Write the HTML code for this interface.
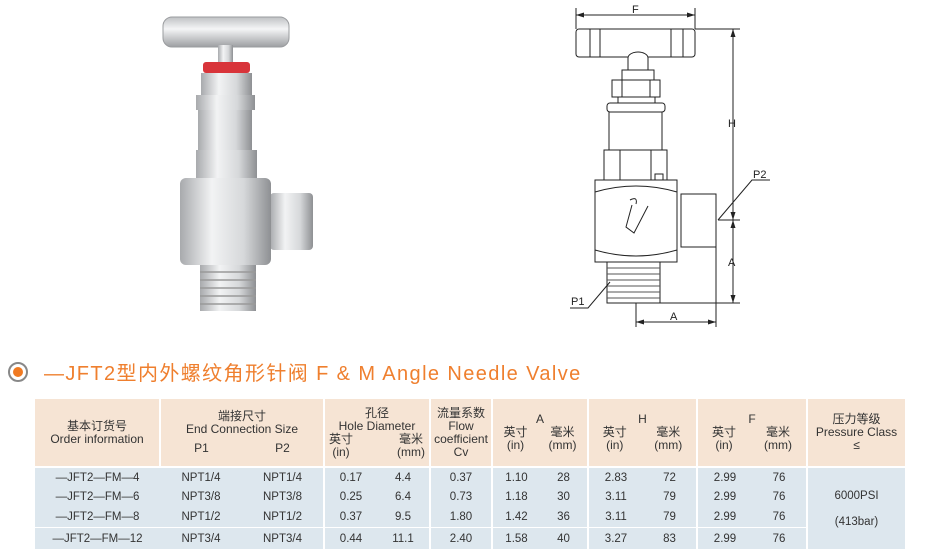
<!DOCTYPE html>
<html><head><meta charset="utf-8"><style>
body{margin:0;width:927px;height:558px;background:#fff;position:relative;overflow:hidden;font-family:"Liberation Sans","Noto Sans CJK SC",sans-serif;}
svg{position:absolute;left:0;top:0}
.title{position:absolute;left:44px;top:357px;font-size:20px;color:#ef7f2e;letter-spacing:1.4px;white-space:nowrap}
.dot{position:absolute;left:8px;top:362px;width:16px;height:16px;border-radius:50%;border:2px solid #888;background:#fff}
.dot i{position:absolute;left:3px;top:3px;width:10px;height:10px;border-radius:50%;background:#f07a22}
table{position:absolute;left:35px;top:399px;border-collapse:collapse;font-size:11.5px;color:#333;table-layout:fixed}
td{padding:0;text-align:center;border-left:2px solid #fff;line-height:13px}
.h td{background:#f6e4d4;font-size:12px}
.b td{background:#dde7ee;padding-top:2px}
</style></head><body>
<svg width="927" height="558" viewBox="0 0 927 558">
<defs>
<linearGradient id="m" x1="0" x2="1"><stop offset="0" stop-color="#a8aaad"/><stop offset=".35" stop-color="#f2f3f4"/><stop offset=".7" stop-color="#d6d8da"/><stop offset="1" stop-color="#8e9093"/></linearGradient>
<linearGradient id="mv" x1="0" y1="0" x2="0" y2="1"><stop offset="0" stop-color="#bfc1c4"/><stop offset=".4" stop-color="#f4f5f6"/><stop offset="1" stop-color="#9d9fa2"/></linearGradient>
</defs>
<rect x="163" y="17" width="126" height="30" rx="9" fill="url(#mv)" stroke="#9a9c9f"/>
<rect x="218" y="45" width="15" height="18" fill="url(#m)"/>
<rect x="203" y="62" width="47" height="11" rx="3" fill="#d8343a"/>
<rect x="201" y="73" width="51" height="22" fill="url(#m)"/>
<rect x="196" y="95" width="59" height="15" fill="url(#m)"/>
<rect x="198" y="110" width="54" height="40" fill="url(#m)"/>
<rect x="196" y="150" width="61" height="30" fill="url(#m)"/>
<rect x="270" y="193" width="43" height="57" rx="4" fill="url(#m)"/>
<rect x="180" y="178" width="91" height="87" rx="6" fill="url(#m)"/>
<rect x="200" y="265" width="56" height="46" fill="url(#m)"/>
<g stroke="#999" stroke-width="1.5"><line x1="200" y1="272" x2="256" y2="272"/><line x1="200" y1="280" x2="256" y2="280"/><line x1="200" y1="288" x2="256" y2="288"/><line x1="200" y1="296" x2="256" y2="296"/><line x1="200" y1="304" x2="256" y2="304"/></g>
<g fill="none" stroke="#222" stroke-width="1">
<line x1="576" y1="15" x2="695" y2="15"/><line x1="576" y1="8" x2="576" y2="29"/><line x1="695" y1="8" x2="695" y2="29"/>
<rect x="576" y="29" width="119" height="28" rx="3" fill="#fff"/>
<line x1="590" y1="29" x2="590" y2="57"/><line x1="600" y1="29" x2="600" y2="57"/><line x1="671" y1="29" x2="671" y2="57"/><line x1="683" y1="29" x2="683" y2="57"/>
<path d="M628 70 V58 a10 6 0 0 1 20 0 V70" fill="#fff"/>
<rect x="622" y="70" width="32" height="10" fill="#fff"/>
<rect x="612" y="80" width="48" height="17" fill="#fff"/><line x1="622" y1="80" x2="622" y2="97"/><line x1="650" y1="80" x2="650" y2="97"/>
<rect x="618" y="97" width="37" height="6"/>
<rect x="607" y="103" width="58" height="9" rx="3" fill="#fff"/>
<rect x="609" y="112" width="53" height="38"/>
<rect x="604" y="150" width="63" height="30"/><line x1="620" y1="150" x2="620" y2="180"/><line x1="651" y1="150" x2="651" y2="180"/>
<rect x="655" y="174" width="8" height="6"/>
<rect x="681" y="194" width="35" height="53"/>
<path d="M595 180 H677 V262 H595 Z M595 192 Q636 180 677 192 M595 250 Q636 262 677 250"/>
<path d="M632 205 l-6 22 l8 6 l14 -27 M630 200 q8 -4 6 4"/>
<rect x="607" y="262" width="53" height="41"/>
<g stroke="#555"><line x1="607" y1="268" x2="660" y2="268"/><line x1="607" y1="274" x2="660" y2="274"/><line x1="607" y1="280" x2="660" y2="280"/><line x1="607" y1="286" x2="660" y2="286"/><line x1="607" y1="292" x2="660" y2="292"/><line x1="607" y1="298" x2="660" y2="298"/></g>
<line x1="695" y1="29" x2="740" y2="29"/><line x1="733" y1="29" x2="733" y2="303"/>
<line x1="718" y1="220" x2="740" y2="220"/><line x1="660" y1="303" x2="740" y2="303"/>
<line x1="636" y1="303" x2="636" y2="327"/><line x1="716" y1="247" x2="716" y2="327"/><line x1="636" y1="322" x2="716" y2="322"/>
<polyline points="718,220 752,180 770,180"/><polyline points="610,282 588,308 570,308"/>
</g>
<g fill="#222"><path d="M576 15 l8 -2.5 v5z"/><path d="M695 15 l-8 -2.5 v5z"/><path d="M733 29 l-2.5 8 h5z"/><path d="M733 220 l-2.5 -8 h5z"/><path d="M733 220 l-2.5 8 h5z"/><path d="M733 303 l-2.5 -8 h5z"/><path d="M636 322 l8 -2.5 v5z"/><path d="M716 322 l-8 -2.5 v5z"/></g>
<g font-family="Liberation Sans,sans-serif" font-size="11" fill="#222">
<text x="632" y="13">F</text><text x="728" y="127">H</text><text x="728" y="266">A</text><text x="670" y="320">A</text><text x="753" y="178">P2</text><text x="571" y="305">P1</text></g>
</svg>
<div class="dot"><i></i></div>
<div class="title">—JFT2型内外螺纹角形针阀 F &amp; M Angle Needle Valve</div>
<table>
<colgroup><col style="width:125px"><col style="width:82px"><col style="width:82px"><col style="width:53px"><col style="width:53px"><col style="width:62px"><col style="width:48px"><col style="width:48px"><col style="width:55px"><col style="width:54px"><col style="width:55px"><col style="width:55px"><col style="width:98px"></colgroup>
<tr class="h" style="height:68px">
<td style="border-left:0">基本订货号<br>Order information</td>
<td colspan="2"><div>端接尺寸<br>End Connection Size</div><div style="display:flex;justify-content:space-around;margin-top:6px"><span>P1</span><span>P2</span></div></td>
<td colspan="2">孔径<br>Hole Diameter<div style="display:flex;justify-content:space-between;padding:0 4px"><span>英寸<br>(in)</span><span>毫米<br>(mm)</span></div></td>
<td>流量系数<br>Flow<br>coefficient<br>Cv</td>
<td colspan="2">A<div style="display:flex;justify-content:space-around"><span>英寸<br>(in)</span><span>毫米<br>(mm)</span></div></td>
<td colspan="2">H<div style="display:flex;justify-content:space-around"><span>英寸<br>(in)</span><span>毫米<br>(mm)</span></div></td>
<td colspan="2">F<div style="display:flex;justify-content:space-around"><span>英寸<br>(in)</span><span>毫米<br>(mm)</span></div></td>
<td>压力等级<br>Pressure Class<br>≤</td></tr>
<tr class="b" style="height:20px;border-top:2px solid #fff"><td style="border-left:0">—JFT2—FM—4</td><td style="border:0">NPT1/4</td><td style="border:0">NPT1/4</td><td>0.17</td><td style="border:0">4.4</td><td>0.37</td><td>1.10</td><td style="border:0">28</td><td>2.83</td><td style="border:0">72</td><td>2.99</td><td style="border:0">76</td><td rowspan="4">6000PSI<br><br>(413bar)</td></tr>
<tr class="b" style="height:19px"><td style="border-left:0">—JFT2—FM—6</td><td style="border:0">NPT3/8</td><td style="border:0">NPT3/8</td><td>0.25</td><td style="border:0">6.4</td><td>0.73</td><td>1.18</td><td style="border:0">30</td><td>3.11</td><td style="border:0">79</td><td>2.99</td><td style="border:0">76</td></tr>
<tr class="b" style="height:21px"><td style="border-left:0">—JFT2—FM—8</td><td style="border:0">NPT1/2</td><td style="border:0">NPT1/2</td><td>0.37</td><td style="border:0">9.5</td><td>1.80</td><td>1.42</td><td style="border:0">36</td><td>3.11</td><td style="border:0">79</td><td>2.99</td><td style="border:0">76</td></tr>
<tr class="b" style="height:22px;border-top:1px solid #fff"><td style="border-left:0">—JFT2—FM—12</td><td style="border:0">NPT3/4</td><td style="border:0">NPT3/4</td><td>0.44</td><td style="border:0">11.1</td><td>2.40</td><td>1.58</td><td style="border:0">40</td><td>3.27</td><td style="border:0">83</td><td>2.99</td><td style="border:0">76</td></tr>
</table>
</body></html>
